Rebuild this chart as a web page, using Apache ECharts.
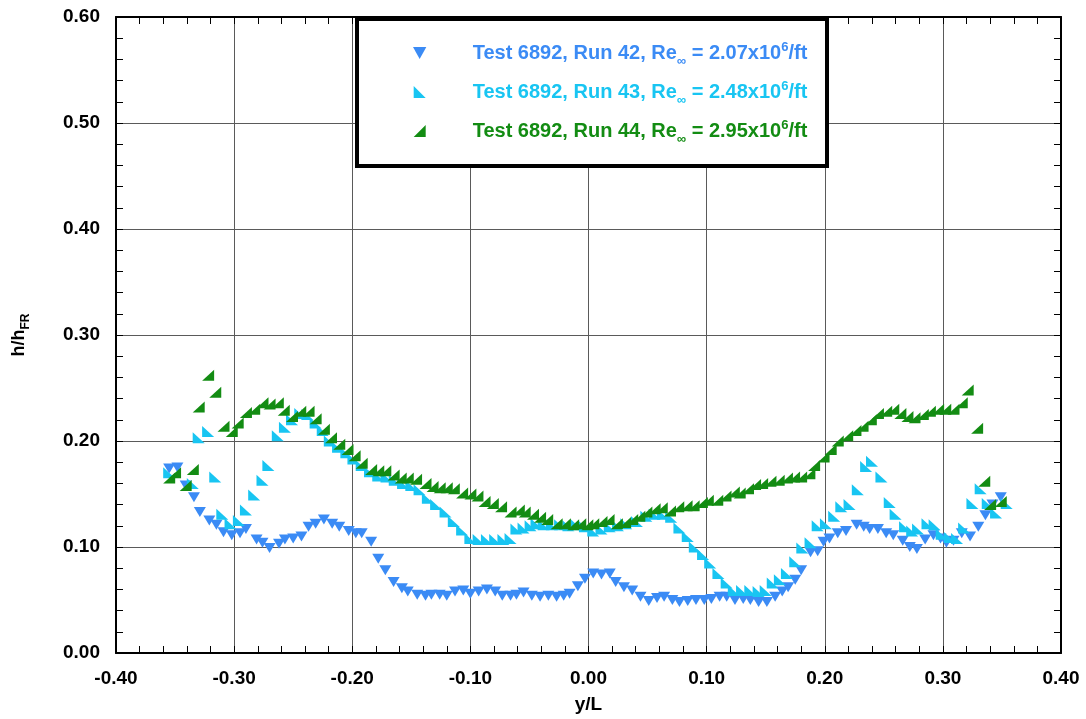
<!DOCTYPE html>
<html>
<head>
<meta charset="utf-8">
<script src="https://cdn.jsdelivr.net/npm/echarts@6/dist/echarts.min.js"></script>
<style>html,body{margin:0;padding:0;background:#fff}#c{width:1086px;height:719px}</style>
</head>
<body>
<div id="c"></div>
<script>
const xTicks = ['-0.40','-0.30','-0.20','-0.10','0.00','0.10','0.20','0.30','0.40'];
const yTicks = ['0.00','0.10','0.20','0.30','0.40','0.50','0.60'];
const seriesNames = [
  'Test 6892, Run 42, Re∞ = 2.07x10⁶/ft',
  'Test 6892, Run 43, Re∞ = 2.48x10⁶/ft',
  'Test 6892, Run 44, Re∞ = 2.95x10⁶/ft'
];
const run42 = [
[-0.355,0.174],[-0.348,0.175],[-0.341,0.158],[-0.334,0.147],[-0.329,0.133],[-0.321,0.125],[-0.315,0.121],[-0.309,0.114],[-0.302,0.111],[-0.295,0.113],
[-0.290,0.117],[-0.281,0.107],[-0.276,0.104],[-0.270,0.099],[-0.262,0.103],[-0.257,0.107],[-0.250,0.108],[-0.243,0.110],[-0.237,0.119],[-0.231,0.122],
[-0.224,0.126],[-0.217,0.122],[-0.211,0.119],[-0.203,0.115],[-0.197,0.113],[-0.192,0.113],[-0.184,0.105],[-0.178,0.089],[-0.172,0.078],[-0.165,0.067],
[-0.158,0.061],[-0.153,0.058],[-0.145,0.055],[-0.138,0.054],[-0.133,0.055],[-0.126,0.055],[-0.120,0.054],[-0.113,0.058],[-0.106,0.059],[-0.100,0.056],
[-0.093,0.058],[-0.086,0.060],[-0.079,0.058],[-0.073,0.054],[-0.066,0.054],[-0.061,0.055],[-0.055,0.057],[-0.048,0.054],[-0.041,0.053],[-0.034,0.054],
[-0.027,0.053],[-0.021,0.054],[-0.016,0.056],[-0.009,0.063],[-0.003,0.070],[0.004,0.075],[0.011,0.074],[0.018,0.075],[0.023,0.067],[0.030,0.062],
[0.037,0.059],[0.044,0.053],[0.051,0.049],[0.058,0.052],[0.064,0.053],[0.071,0.050],[0.077,0.048],[0.084,0.049],[0.091,0.050],[0.098,0.050],
[0.104,0.051],[0.111,0.053],[0.117,0.053],[0.124,0.050],[0.131,0.051],[0.137,0.050],[0.144,0.048],[0.151,0.048],[0.158,0.053],[0.164,0.058],
[0.169,0.062],[0.175,0.069],[0.180,0.078],[0.188,0.095],[0.194,0.096],[0.199,0.105],[0.204,0.108],[0.211,0.113],[0.218,0.115],[0.227,0.121],
[0.233,0.119],[0.238,0.117],[0.245,0.117],[0.252,0.113],[0.258,0.111],[0.266,0.106],[0.272,0.100],[0.278,0.098],[0.285,0.107],[0.292,0.111],
[0.298,0.108],[0.303,0.104],[0.309,0.106],[0.316,0.113],[0.323,0.110],[0.330,0.119],[0.336,0.130],[0.342,0.140],[0.349,0.147]
];
const run43 = [
[-0.355,0.170],[-0.335,0.160],[-0.330,0.203],[-0.322,0.209],[-0.316,0.166],[-0.310,0.131],[-0.303,0.122],[-0.296,0.125],[-0.290,0.135],[-0.283,0.149],
[-0.276,0.163],[-0.271,0.177],[-0.263,0.205],[-0.257,0.213],[-0.251,0.220],[-0.244,0.226],[-0.238,0.225],[-0.231,0.217],[-0.225,0.210],[-0.219,0.200],
[-0.212,0.194],[-0.205,0.189],[-0.199,0.183],[-0.192,0.177],[-0.185,0.171],[-0.178,0.167],[-0.171,0.166],[-0.164,0.163],[-0.157,0.160],[-0.150,0.158],
[-0.143,0.154],[-0.136,0.146],[-0.129,0.140],[-0.121,0.133],[-0.114,0.124],[-0.107,0.116],[-0.100,0.108],[-0.093,0.107],[-0.086,0.107],[-0.079,0.107],
[-0.072,0.107],[-0.066,0.108],[-0.061,0.117],[-0.055,0.118],[-0.049,0.120],[-0.044,0.122],[-0.038,0.121],[-0.031,0.121],[-0.024,0.121],[-0.017,0.120],
[-0.010,0.121],[-0.003,0.119],[0.004,0.115],[0.011,0.117],[0.018,0.119],[0.025,0.120],[0.032,0.122],[0.041,0.124],[0.049,0.129],[0.056,0.131],
[0.063,0.131],[0.070,0.128],[0.077,0.118],[0.084,0.110],[0.090,0.100],[0.097,0.093],[0.103,0.085],[0.110,0.075],[0.117,0.066],[0.123,0.059],
[0.130,0.059],[0.137,0.059],[0.144,0.058],[0.150,0.059],[0.156,0.066],[0.162,0.069],[0.168,0.075],[0.175,0.086],[0.181,0.099],[0.188,0.104],
[0.194,0.120],[0.201,0.122],[0.208,0.129],[0.214,0.138],[0.221,0.140],[0.228,0.154],[0.235,0.176],[0.240,0.181],[0.248,0.166],[0.255,0.142],
[0.260,0.131],[0.268,0.119],[0.274,0.115],[0.279,0.117],[0.287,0.122],[0.293,0.121],[0.299,0.112],[0.306,0.109],[0.312,0.108],[0.318,0.118],
[0.325,0.141],[0.332,0.155],[0.338,0.141],[0.345,0.132],[0.354,0.141]
];
const run44 = [
[-0.355,0.165],[-0.350,0.170],[-0.341,0.158],[-0.335,0.173],[-0.330,0.232],[-0.322,0.262],[-0.316,0.246],[-0.309,0.214],[-0.302,0.209],[-0.297,0.217],
[-0.290,0.227],[-0.283,0.230],[-0.276,0.236],[-0.270,0.235],[-0.263,0.236],[-0.258,0.229],[-0.251,0.223],[-0.244,0.228],[-0.237,0.228],[-0.231,0.221],
[-0.224,0.211],[-0.218,0.203],[-0.211,0.197],[-0.204,0.192],[-0.198,0.186],[-0.192,0.179],[-0.184,0.173],[-0.178,0.172],[-0.172,0.172],[-0.165,0.168],
[-0.159,0.165],[-0.153,0.165],[-0.146,0.164],[-0.138,0.160],[-0.132,0.157],[-0.126,0.156],[-0.120,0.156],[-0.114,0.155],[-0.107,0.151],[-0.100,0.150],
[-0.094,0.148],[-0.088,0.143],[-0.081,0.141],[-0.074,0.138],[-0.066,0.133],[-0.059,0.135],[-0.054,0.133],[-0.047,0.131],[-0.041,0.128],[-0.035,0.126],
[-0.027,0.122],[-0.020,0.122],[-0.013,0.121],[-0.007,0.122],[-0.001,0.121],[0.004,0.122],[0.011,0.124],[0.017,0.126],[0.024,0.122],[0.031,0.123],
[0.037,0.126],[0.043,0.129],[0.049,0.133],[0.056,0.136],[0.062,0.137],[0.069,0.134],[0.076,0.138],[0.083,0.139],[0.089,0.139],[0.096,0.142],
[0.101,0.144],[0.109,0.144],[0.116,0.148],[0.123,0.152],[0.128,0.151],[0.135,0.155],[0.141,0.159],[0.147,0.160],[0.154,0.162],[0.161,0.163],
[0.168,0.165],[0.174,0.166],[0.180,0.166],[0.187,0.169],[0.191,0.177],[0.199,0.185],[0.205,0.192],[0.211,0.200],[0.219,0.205],[0.226,0.210],
[0.232,0.214],[0.239,0.220],[0.245,0.226],[0.252,0.228],[0.258,0.230],[0.264,0.226],[0.270,0.223],[0.276,0.222],[0.283,0.225],[0.289,0.228],
[0.296,0.230],[0.302,0.230],[0.309,0.230],[0.316,0.236],[0.321,0.248],[0.329,0.212],[0.335,0.162],[0.340,0.140],[0.349,0.143]
];
const colors = ['#3b8bf5', '#18c5f2', '#138c13'];
const symbols = ['path://M0,0L10,0L5,9Z', 'path://M0,0L0,10L10,10Z', 'path://M10,0L10,10L0,10Z'];

const FONT = 'Liberation Sans';
const chart = echarts.init(document.getElementById('c'), null, {renderer: 'canvas'});
const gridLine = {show: true, lineStyle: {color: '#5a5a5a', width: 1}};
const axLine = {show: true, onZero: false, lineStyle: {color: '#000', width: 2}};
const tick = {show: true, inside: true, length: 7, lineStyle: {color: '#000', width: 1}};
const minor = {show: true, splitNumber: 5, length: 7, lineStyle: {color: '#000', width: 1}};
const fmtX = v => xTicks[Math.round((v + 0.4) / 0.1)];
const fmtY = v => yTicks[Math.round(v / 0.1)];

function legendFmt(name) {
  return '{g|}' + name.replace('Re∞', 'Re{sub|∞}').replace('10⁶', '10{sup|6}');
}

chart.setOption({
  animation: false,
  backgroundColor: '#fff',
  grid: {left: 116, right: 25, top: 17, bottom: 66, containLabel: false},
  xAxis: [{
    type: 'value', min: -0.4, max: 0.4, interval: 0.1, position: 'bottom',
    axisLine: axLine, axisTick: tick, minorTick: minor,
    splitLine: gridLine, minorSplitLine: {show: false},
    axisLabel: {formatter: fmtX, color: '#000', fontFamily: FONT, fontWeight: 'bold', fontSize: 19, margin: 16},
    name: 'y/L', nameLocation: 'middle', nameGap: 42,
    nameTextStyle: {color: '#000', fontFamily: FONT, fontWeight: 'bold', fontSize: 19}
  }, {
    type: 'value', min: -0.4, max: 0.4, interval: 0.1, position: 'top',
    axisLine: axLine, axisTick: tick, minorTick: minor,
    splitLine: {show: false}, axisLabel: {show: false}
  }],
  yAxis: [{
    type: 'value', min: 0, max: 0.6, interval: 0.1, position: 'left',
    axisLine: axLine, axisTick: tick, minorTick: minor,
    splitLine: gridLine,
    axisLabel: {formatter: fmtY, color: '#000', fontFamily: FONT, fontWeight: 'bold', fontSize: 19, margin: 16},
    name: 'h/h{sub|FR}', nameLocation: 'middle', nameGap: 84, nameRotate: 90,
    nameTextStyle: {color: '#000', fontFamily: FONT, fontWeight: 'bold', fontSize: 18,
      rich: {sub: {fontFamily: FONT, fontWeight: 'bold', fontSize: 12, color: '#000', padding: [14, 0, 0, 0]}}}
  }, {
    type: 'value', min: 0, max: 0.6, interval: 0.1, position: 'right',
    axisLine: axLine, axisTick: tick, minorTick: minor,
    splitLine: {show: false}, axisLabel: {show: false}
  }],
  graphic: [{
    type: 'rect', z: 3, left: 355, top: 17,
    shape: {width: 470, height: 147},
    style: {fill: '#fff', stroke: '#000', lineWidth: 4}
  }],
  legend: {
    z: 5, orient: 'vertical', left: 408, top: 35, itemGap: 11.5,
    itemWidth: 14, itemHeight: 12,
    data: seriesNames.map((n, i) => ({name: n, icon: symbols[i], textStyle: {color: colors[i]}})),
    formatter: legendFmt,
    textStyle: {fontFamily: FONT, fontWeight: 'bold', fontSize: 20, lineHeight: 26,
      rich: {
        g: {width: 41},
        sub: {fontFamily: FONT, fontWeight: 'bold', fontSize: 13, padding: [16, 0, 0, 0]},
        sup: {fontFamily: FONT, fontWeight: 'bold', fontSize: 13, padding: [0, 0, 12, 0]}
      }}
  },
  series: [run42, run43, run44].map((d, i) => ({
    name: seriesNames[i], type: 'scatter', data: d,
    symbol: symbols[i], symbolSize: i === 0 ? [12, 10] : [12, 11],
    itemStyle: {color: colors[i], opacity: 1},
    z: 2 + i
  }))
});
</script>
</body>
</html>
